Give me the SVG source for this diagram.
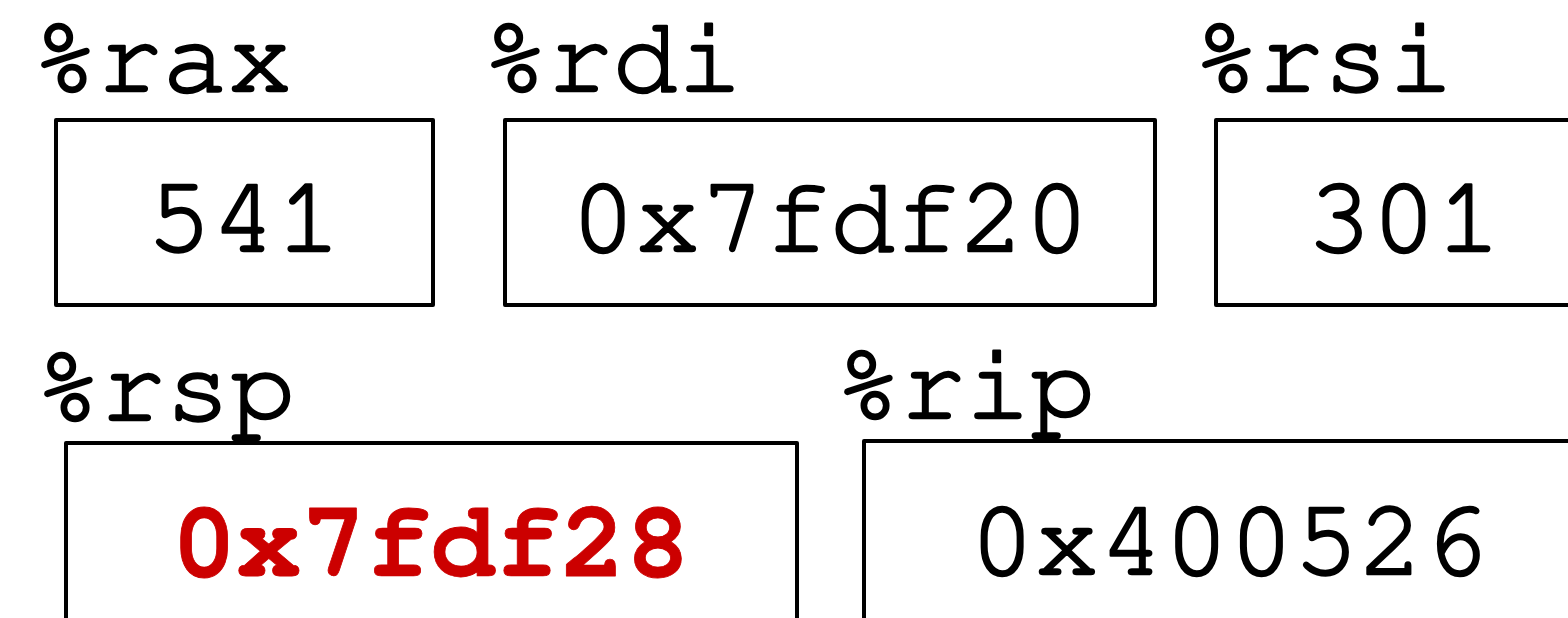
<svg xmlns="http://www.w3.org/2000/svg" width="1568" height="618" viewBox="0 0 1568 618">
<style>
.box{fill:none;stroke:#000;stroke-width:4;stroke-linejoin:round}
.lbl{font-family:"Nimbus Mono PS","Nimbus Mono L","FreeMono","Courier 10 Pitch","Courier","Liberation Mono",monospace;font-size:108px;fill:#000;stroke:#000;stroke-width:2.6;stroke-linejoin:round}
.val{font-family:"Nimbus Mono PS","Nimbus Mono L","FreeMono","Courier 10 Pitch","Courier","Liberation Mono",monospace;font-size:108px;fill:#000;stroke:#000;stroke-width:2.6;stroke-linejoin:round;text-anchor:middle}
.hot{fill:#CC0000;stroke:#CC0000;font-weight:bold;stroke-width:0.8}
</style>
<rect width="1568" height="618" fill="#fff"/>
<g id="rax">
<text class="lbl" x="33" y="91">%rax</text>
<rect class="box" x="56" y="120" width="377" height="185"/>
<text class="val" x="244" y="251">541</text>
</g>
<g id="rdi">
<text class="lbl" x="483" y="91">%rdi</text>
<rect class="box" x="505" y="120" width="650" height="185"/>
<text class="val" x="830" y="251">0x7fdf20</text>
</g>
<g id="rsi">
<text class="lbl" x="1194" y="91">%rsi</text>
<rect class="box" x="1216" y="120" width="377" height="185"/>
<text class="val" x="1404" y="251">301</text>
</g>
<g id="rsp">
<text class="lbl" x="36" y="420">%rsp</text>
<rect class="box" x="66" y="443" width="731" height="200"/>
<text class="val hot" x="431" y="576">0x7fdf28</text>
</g>
<g id="rip">
<text class="lbl" x="836" y="418">%rip</text>
<rect class="box" x="864" y="441" width="730" height="200"/>
<text class="val" x="1229" y="574">0x400526</text>
</g>
<g id="connectors"></g>
</svg>
